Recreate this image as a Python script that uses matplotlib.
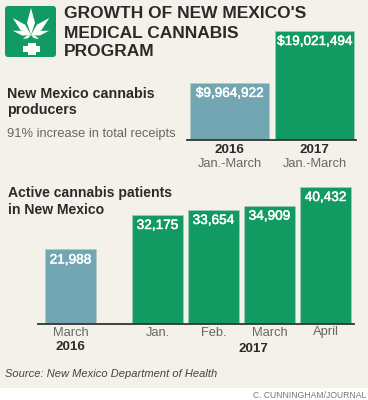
import numpy as np
import matplotlib
matplotlib.use('Agg')
import matplotlib.pyplot as plt
import matplotlib.patheffects as pe
from matplotlib.patches import FancyBboxPatch, Polygon, Rectangle

# data
receipt_years = ['2016', '2017']
receipt_period = ['Jan.-March', 'Jan.-March']
receipts = [9964922, 19021494]
receipt_labels = ['$9,964,922', '$19,021,494']
patient_months = ['March', 'Jan.', 'Feb.', 'March', 'April']
patients = [21988, 32175, 33654, 34909, 40432]
patient_labels = ['21,988', '32,175', '33,654', '34,909', '40,432']

GREEN = '#129a63'
BLUE = '#72a6b2'
BG = '#f4f1ea'
DARK = '#2a2a2a'
GREY = '#666666'
W, H = 368, 400

plt.rcParams['font.family'] = ['Liberation Sans', 'DejaVu Sans']
fig = plt.figure(figsize=(W / 100, H / 100), dpi=100, facecolor='white')

# overlay in pixel coords for text and logo
bg = fig.add_axes([0, 0, 1, 1])
bg.set_xlim(0, W)
bg.set_ylim(H, 0)
bg.axis('off')
bg.add_patch(Rectangle((0, 0), W, 388, color=BG, lw=0))


def pixel_axes(left, right, top, base):
    ax = fig.add_axes([left / W, 1 - base / H, (right - left) / W, (base - top) / H])
    ax.patch.set_alpha(0)
    for s in ['top', 'left', 'right']:
        ax.spines[s].set_visible(False)
    ax.spines['bottom'].set_color('#333333')
    ax.spines['bottom'].set_linewidth(1.3)
    ax.set_yticks([])
    ax.tick_params(axis='x', length=0, bottom=False, labelbottom=False)
    return ax


def below(ax, x, t, drop, **kw):
    ax.annotate(t, (x, 0), xytext=(0, -drop), textcoords='offset pixels', ha='center', va='center', **kw)


def bar_values(ax, xs, vals, labels, size):
    for x, v, t in zip(xs, vals, labels):
        ax.annotate(t, (x, v), xytext=(0, -10), textcoords='offset pixels', ha='center',
                    va='center', color='white', fontsize=size,
                    path_effects=[pe.withStroke(linewidth=0.35, foreground='white')])


# top chart
ax1 = pixel_axes(187, 356, 31, 140)
x1 = np.arange(2)
ax1.bar(x1, receipts, width=0.929, color=[BLUE, GREEN], edgecolor='#a9cbc6', linewidth=0.4)
ax1.set_xlim(-0.5, 1.488)
ax1.set_ylim(0, receipts[1])
bar_values(ax1, x1, receipts, receipt_labels, 9.75)
for x, yr, per in zip(x1, receipt_years, receipt_period):
    below(ax1, x, yr, 10, fontsize=9.6, fontweight='bold', color=DARK)
    below(ax1, x, per, 24, fontsize=9.3, color=GREY)

# bottom chart
ax2 = pixel_axes(38, 354, 187, 324)
x2 = np.array([0, 1.554, 2.554, 3.554, 4.554])
ax2.bar(x2, patients, width=0.91, color=[BLUE] + [GREEN] * 4, edgecolor='#a9cbc6', linewidth=0.4)
ax2.set_xlim(-0.58, 5.064)
ax2.set_ylim(0, patients[-1])
bar_values(ax2, x2, patients, patient_labels, 9.8)
for x, m in zip(x2, patient_months):
    below(ax2, x, m, 8.5, fontsize=9.3, color=GREY)
below(ax2, x2[0], '2016', 22.5, fontsize=9.6, fontweight='bold', color=DARK)
below(ax2, x2[3] - 0.29, '2017', 25, fontsize=9.6, fontweight='bold', color=DARK)

# text
for y, t in zip([14, 33, 52], ["GROWTH OF NEW MEXICO'S", 'MEDICAL CANNABIS', 'PROGRAM']):
    bg.text(64, y, t, fontsize=12.5, fontweight='bold', color=DARK, va='center')
for y, t in zip([94, 110], ['New Mexico cannabis', 'producers']):
    bg.text(7, y, t, fontsize=10.3, fontweight='bold', color=DARK, va='center')
bg.text(7, 133.5, '91% increase in total receipts', fontsize=9.25, color=GREY, va='center')
for y, t in zip([193, 209.5], ['Active cannabis patients', 'in New Mexico']):
    bg.text(8, y, t, fontsize=10.1, fontweight='bold', color=DARK, va='center')
bg.text(5, 374, 'Source: New Mexico Department of Health', fontsize=8.05, style='italic', color='#444444', va='center')
bg.text(366, 395, 'C. CUNNINGHAM/JOURNAL', fontsize=6.25, color='#777777', va='center', ha='right')

# logo
bg.add_patch(FancyBboxPatch((7, 8), 47, 47, boxstyle='round,pad=2,rounding_size=3', color=GREEN, lw=0))
cx, cy = 31, 35


def leaflet(angle, length, width):
    a = np.radians(angle)
    d = np.array([np.sin(a), -np.cos(a)])
    n = np.array([d[1], -d[0]])
    base = np.array([cx, cy])
    pts = [base, base + d * length * 0.45 + n * width / 2, base + d * length,
           base + d * length * 0.45 - n * width / 2]
    bg.add_patch(Polygon(pts, closed=True, color='white', lw=0))


for ang, ln, wd in [(0, 27, 8), (47, 25, 7), (-47, 25, 7), (77, 18.5, 5), (-77, 18.5, 5), (117, 9, 3), (-117, 9, 3)]:
    leaflet(ang, ln, wd)
bg.add_patch(Rectangle((27.5, 43), 8, 12, color='white', lw=0))
bg.add_patch(Rectangle((23, 46), 17, 5.5, color='white', lw=0))

fig.savefig('out.png', dpi=100, facecolor='white')
